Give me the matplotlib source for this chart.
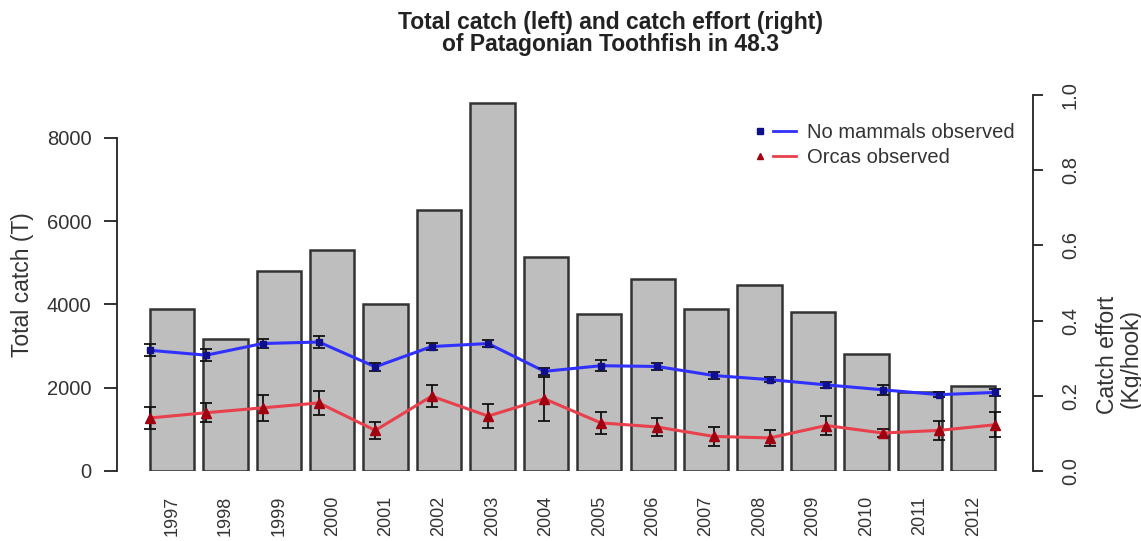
import numpy as np
import matplotlib
matplotlib.use("Agg")
import matplotlib.pyplot as plt
from matplotlib.lines import Line2D
from matplotlib.legend_handler import HandlerTuple

plt.rcParams['font.family'] = ['Liberation Sans', 'DejaVu Sans']

# Season labels
years = ['1997', '1998', '1999', '2000', '2001', '2002', '2003', '2004',
         '2005', '2006', '2007', '2008', '2009', '2010', '2011', '2012']

# Total catch (tonnes), left axis
total_catch = [3900, 3170, 4800, 5300, 4020, 6280, 8830, 5150,
               3760, 4610, 3890, 4470, 3810, 2820, 1890, 2030]

# Catch effort (kg/hook), right axis, with error half-widths
no_mammals = [0.321, 0.308, 0.339, 0.343, 0.277, 0.331, 0.339, 0.265,
              0.280, 0.278, 0.254, 0.243, 0.229, 0.216, 0.203, 0.209]
no_mammals_err = [0.016, 0.016, 0.013, 0.015, 0.011, 0.010, 0.009, 0.010,
                  0.014, 0.010, 0.008, 0.006, 0.008, 0.014, 0.006, 0.010]
orcas = [0.141, 0.155, 0.168, 0.181, 0.108, 0.199, 0.146, 0.192,
         0.128, 0.117, 0.092, 0.088, 0.121, 0.101, 0.108, 0.123]
orcas_err = [0.030, 0.025, 0.035, 0.032, 0.022, 0.029, 0.031, 0.058,
             0.030, 0.023, 0.025, 0.021, 0.024, 0.010, 0.025, 0.033]

W, H = 1141, 541
fig = plt.figure(figsize=(W / 100, H / 100), dpi=100)
ax_l, ax_r, ax_b, ax_t = 117, 1033, 471, 95
ax = fig.add_axes([ax_l / W, 1 - ax_b / H, (ax_r - ax_l) / W, (ax_b - ax_t) / H])

x = np.arange(len(years))
bar_w = 0.83
ax.bar(x, total_catch, width=bar_w, color='#bebebe', edgecolor='#333333',
       linewidth=1.8, zorder=1)
ax.set_xlim(-1.03, 16.12)
ax.set_ylim(0, 9030)
ax.set_yticks([0, 2000, 4000, 6000, 8000])
ax.tick_params(axis='y', labelsize=14.5, length=9.5, width=1.3, pad=9,
               color='#222222', labelcolor='#333333')
ax.set_xticks(x)
ax.set_xticklabels(years, rotation=90, fontsize=13, color='#333333')
ax.tick_params(axis='x', length=0, pad=18)
for s in ['top', 'right', 'bottom']:
    ax.spines[s].set_visible(False)
ax.spines['left'].set_bounds(0, 8000)
ax.spines['left'].set_linewidth(1.3)
ax.spines['left'].set_color('#222222')
fig.text(23 / W, 1 - 285 / H, 'Total catch (T)', rotation=90, fontsize=16.5,
         color='#333333', ha='center', va='center')

# Catch effort lines on a secondary axis
ax2 = ax.twinx()
ax2.set_ylim(0, 1)
ax2.set_xlim(ax.get_xlim())
xp = np.linspace(x[0] - bar_w / 2, x[-1] + bar_w / 2, len(years))

ax2.plot(xp, no_mammals, color='#3030ff', lw=2.2, zorder=2)
ax2.plot(xp, orcas, color='#e8404c', lw=2.2, zorder=2)
ax2.errorbar(xp, no_mammals, yerr=no_mammals_err, fmt='none', ecolor='#111111',
             elinewidth=1.3, capsize=4, capthick=1.3, zorder=3)
ax2.errorbar(xp, orcas, yerr=orcas_err, fmt='none', ecolor='#111111',
             elinewidth=1.3, capsize=4, capthick=1.3, zorder=3)
ax2.plot(xp, no_mammals, 's', color='#10108a', ms=5, zorder=4)
ax2.plot(xp, orcas, '^', color='#a00010', ms=7.5, zorder=4)

ax2.set_yticks([0.0, 0.2, 0.4, 0.6, 0.8, 1.0])
ax2.set_yticklabels(['0.0', '0.2', '0.4', '0.6', '0.8', '1.0'], rotation=90,
                    va='center')
ax2.tick_params(axis='y', labelsize=14.5, length=7, width=1.3, pad=13,
                color='#222222', labelcolor='#333333')
for s in ['top', 'left', 'bottom']:
    ax2.spines[s].set_visible(False)
ax2.spines['right'].set_bounds(0, 1)
ax2.spines['right'].set_linewidth(1.3)
ax2.spines['right'].set_color('#222222')

fig.text(1107 / W, 1 - 355 / H, 'Catch effort', rotation=90, fontsize=16.5,
         color='#333333', ha='center', va='center')
fig.text(1131 / W, 1 - 358 / H, '(Kg/hook)', rotation=90, fontsize=16.5,
         color='#333333', ha='center', va='center')

# Title
fig.text(611 / W, 1 - 23 / H, 'Total catch (left) and catch effort (right)',
         fontsize=16.5, fontweight='bold', color='#222222', ha='center', va='center')
fig.text(611 / W, 1 - 45 / H, 'of Patagonian Toothfish in 48.3',
         fontsize=16.5, fontweight='bold', color='#222222', ha='center', va='center')

# Legend: point followed by a line segment
h_blue = (Line2D([], [], marker='s', color='#10108a', ls='none', ms=4),
          Line2D([], [], color='#3030ff', lw=2))
h_red = (Line2D([], [], marker='^', color='#a00010', ls='none', ms=5),
         Line2D([], [], color='#e8404c', lw=2))
fig.legend([h_blue, h_red], ['No mammals observed', 'Orcas observed'],
           handler_map={tuple: HandlerTuple(ndivide=None, pad=0.1)},
           loc='upper left', bbox_to_anchor=(748 / W, 1 - 123 / H),
           frameon=False, fontsize=14.5, handlelength=2.4, handletextpad=0.55,
           labelspacing=0.3, borderpad=0, borderaxespad=0,
           labelcolor='#333333')

fig.savefig('out.png', dpi=100)
